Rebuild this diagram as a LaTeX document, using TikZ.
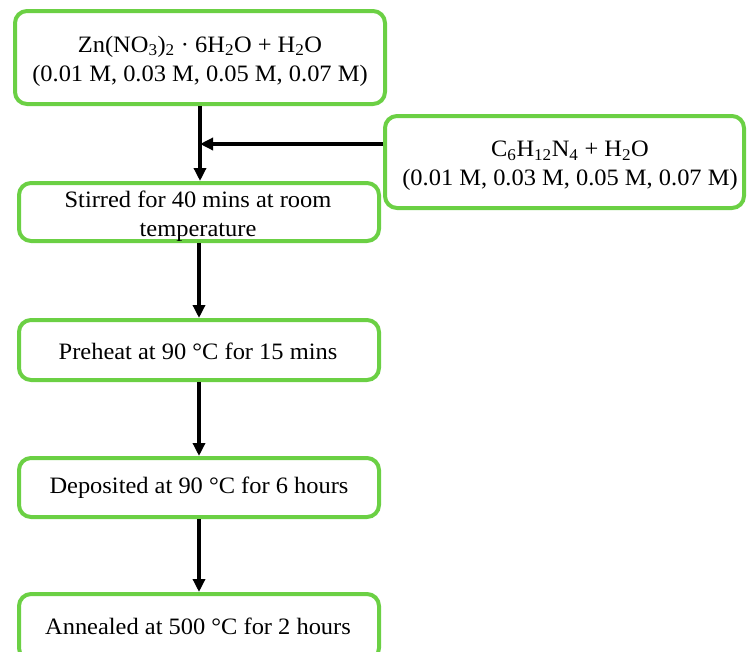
\documentclass[tikz,border=0pt]{standalone}
\usepackage{fontspec}
\setmainfont{Liberation Serif}[FakeStretch=1.04]
\usetikzlibrary{arrows.meta}
\definecolor{boxgreen}{RGB}{107,208,68}
\tikzset{
  stepbox/.style={draw=boxgreen, line width=4pt, rounded corners=12pt, rectangle, inner sep=0pt, fill=white},
  lbl/.style={align=center, inner sep=0pt, font=\fontsize{23.5}{29}\selectfont},
  flow/.style={line width=3.5pt, -{Triangle[length=13pt,width=12pt]}}
}
\begin{document}
\begin{tikzpicture}[x=1pt,y=-1pt]
\useasboundingbox (0,0) rectangle (747,651);
\clip (0,0) rectangle (747,651);
\node[stepbox, minimum width=370pt, minimum height=93pt] (b1) at (200,57.5) {};
\node[stepbox, minimum width=359pt, minimum height=92pt] (b2) at (564.5,162) {};
\node[stepbox, minimum width=360pt, minimum height=58pt] (b3) at (199,212) {};
\node[stepbox, minimum width=360pt, minimum height=60pt] (b4) at (199,350) {};
\node[stepbox, minimum width=360pt, minimum height=59pt] (b5) at (199,487.5) {};
\node[stepbox, minimum width=360pt, minimum height=66pt] (b6) at (199,627) {};
\node[lbl] (t1) at (200,61) {Zn(NO\textsubscript{3})\textsubscript{2} · 6H\textsubscript{2}O + H\textsubscript{2}O\\(0.01 M, 0.03 M, 0.05 M, 0.07 M)};
\node[lbl] (t2) at (570,166) {C\textsubscript{6}H\textsubscript{12}N\textsubscript{4} + H\textsubscript{2}O\\(0.01 M, 0.03 M, 0.05 M, 0.07 M)};
\node[lbl] (t3) at (198,216) {Stirred for 40 mins at room\\temperature};
\node[lbl] (t4) at (198,351) {Preheat at 90 °C for 15 mins};
\node[lbl] (t5) at (199,488) {Deposited at 90 °C for 6 hours};
\node[lbl] (t6) at (198,626) {Annealed at 500 °C for 2 hours};
\coordinate (j) at (200,144);
\draw[flow] (b1.south) -- (b1.south |- b3.north);
\draw[flow] (b2.west |- j) -- (j);
\draw[flow] (b3.south) -- (b4.north);
\draw[flow] (b4.south) -- (b5.north);
\draw[flow] (b5.south) -- (b6.north);
\end{tikzpicture}
\end{document}
